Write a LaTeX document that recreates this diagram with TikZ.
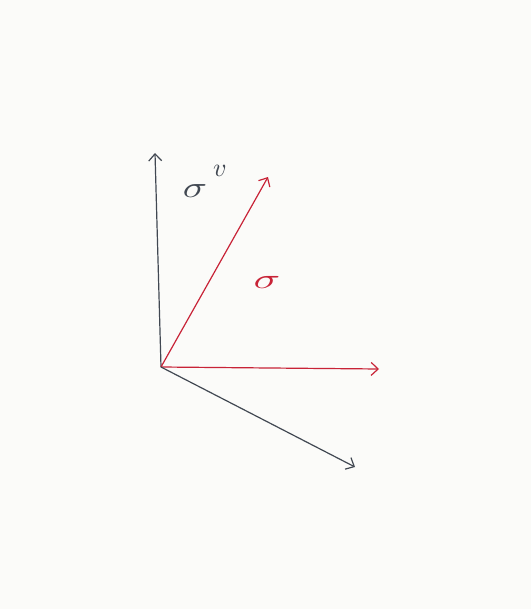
\documentclass[tikz,border=0pt]{standalone}
\usetikzlibrary{arrows.meta}
\definecolor{pen}{RGB}{200,35,55}
\definecolor{ink}{RGB}{65,72,82}
\definecolor{paper}{RGB}{251,251,249}
\tikzset{
  vec/.style={line width=1.2pt, -{Straight Barb[length=7pt,width=13pt,line width=1.2pt]}},
  lbl/.style={inner sep=0pt, transform shape}
}
\begin{document}
\begin{tikzpicture}[x=1pt,y=-1pt]
\fill[paper] (0,0) rectangle (531,609);
\useasboundingbox (0,0) rectangle (531,609);
\coordinate (o) at (161,367);
\coordinate (up) at (155,153);
\coordinate (diag) at (268,177);
\coordinate (hor) at (379,369);
\coordinate (low) at (355,467);
\draw[vec, ink] (o) -- (up);
\draw[vec, pen] (o) -- (diag);
\draw[vec, pen] (o) -- (hor);
\draw[vec, ink] (o) -- (low);
\node[lbl, text=ink, xscale=4, yscale=3] (s1) at (195,191) {$\sigma$};
\node[lbl, text=ink, scale=2.6] (v) at (220,171) {$v$};
\node[lbl, text=pen, xscale=4.4, yscale=2.8] (s2) at (267,282) {$\sigma$};
\end{tikzpicture}
\end{document}
